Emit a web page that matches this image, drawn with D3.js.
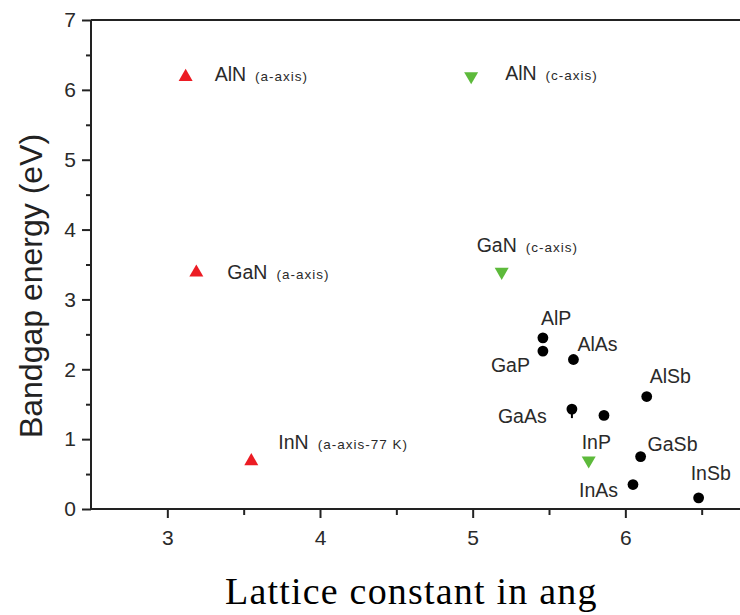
<!DOCTYPE html>
<html>
<head>
  <meta charset="utf-8">
  <title>Bandgap energy vs lattice constant</title>
  <script src="https://cdn.jsdelivr.net/npm/d3@7/dist/d3.min.js"></script>
  <style>
    body { margin: 0; background: #fff; }
    svg { display: block; }
  </style>
</head>
<body>
  <div id="chart"></div>
  <script>
    // wurtzite nitrides, a-axis (red up triangles)
    const aAxisNames = ['AlN', 'GaN', 'InN'];
    const aAxisSub = ['(a-axis)', '(a-axis)', '(a-axis-77 K)'];
    const aAxisLattice = [3.12, 3.19, 3.55];
    const aAxisGap = [6.2, 3.4, 0.7];

    // c-axis (green down triangles)
    const cAxisNames = ['AlN', 'GaN', 'InP'];
    const cAxisSub = ['(c-axis)', '(c-axis)', ''];
    const cAxisLattice = [4.99, 5.19, 5.76];
    const cAxisGap = [6.18, 3.38, 0.68];

    // zinc blende III-V (black dots)
    const zbNames = ['AlP', 'GaP', 'AlAs', 'AlSb', 'GaAs', '', 'GaSb', 'InAs', 'InSb'];
    const zbLattice = [5.46, 5.46, 5.66, 6.14, 5.65, 5.86, 6.10, 6.05, 6.48];
    const zbGap = [2.45, 2.26, 2.14, 1.61, 1.43, 1.34, 0.75, 0.35, 0.16];

    const xTicks = [3, 4, 5, 6];
    const yTicks = [0, 1, 2, 3, 4, 5, 6, 7];

    // label placement relative to each marker (layout only)
    const aAxisLabelPos = [[29, 5], [31, 8], [27, -11]];
    const cAxisLabelPos = [[34, 3], [-25, -21], [-7, -12]];
    const zbLabelPos = [[-2, -13], [-52, 21], [4, -9], [3, -14], [-74, 14], [0, 0], [7, -6], [-54, 12], [-8, -18]];

    const W = 740, H = 615;
    const svg = d3.select('#chart').append('svg')
      .attr('width', W).attr('height', H);

    const x = d3.scaleLinear().domain([2.5, 6.9]).range([91, 91 + 4.4 * 152.67]);
    const y = d3.scaleLinear().domain([0, 7]).range([509, 20]);

    const sans = 'Arial, "Liberation Sans", sans-serif';

    // minor ticks
    svg.append('g')
      .attr('transform', 'translate(' + x(2.5) + ',0)')
      .call(d3.axisLeft(y).tickValues(d3.range(0.5, 7, 1)).tickSize(5).tickFormat(''))
      .call(g => g.select('.domain').remove())
      .call(g => g.selectAll('line').attr('stroke', '#222').attr('stroke-width', 2));
    svg.append('g')
      .attr('transform', 'translate(0,' + y(0) + ')')
      .call(d3.axisBottom(x).tickValues([3.5, 4.5, 5.5, 6.5]).tickSize(6).tickFormat(''))
      .call(g => g.select('.domain').remove())
      .call(g => g.selectAll('line').attr('stroke', '#222').attr('stroke-width', 2));

    // major ticks + labels
    const yAxis = svg.append('g')
      .attr('transform', 'translate(' + x(2.5) + ',0)')
      .call(d3.axisLeft(y).tickValues(yTicks).tickSize(9).tickPadding(6).tickFormat(d3.format('d')));
    const xAxis = svg.append('g')
      .attr('transform', 'translate(0,' + y(0) + ')')
      .call(d3.axisBottom(x).tickValues(xTicks).tickSize(9).tickPadding(12).tickFormat(d3.format('d')));

    [yAxis, xAxis].forEach(a => {
      a.select('.domain').remove();
      a.selectAll('line').attr('stroke', '#222').attr('stroke-width', 2);
      a.selectAll('text').attr('fill', '#2a2a2a')
        .style('font-family', sans).style('font-size', '21px');
    });

    // frame lines: left, bottom, top
    const frame = svg.append('g').attr('stroke', '#222').attr('stroke-width', 2);
    frame.append('line').attr('x1', x(2.5)).attr('x2', x(2.5)).attr('y1', y(7)).attr('y2', y(0));
    frame.append('line').attr('x1', x(2.5)).attr('x2', W).attr('y1', y(0)).attr('y2', y(0));
    frame.append('line').attr('x1', x(2.5)).attr('x2', W).attr('y1', y(7)).attr('y2', y(7));

    const tri = d3.symbol().type(d3.symbolTriangle).size(85);

    function addLabel(px, py, name, sub, pos) {
      if (!name) return;
      const t = svg.append('text')
        .attr('x', px + pos[0]).attr('y', py + pos[1])
        .attr('fill', '#2a2a2a')
        .style('font-family', sans).style('font-size', '19.5px');
      t.append('tspan').text(name);
      if (sub) {
        t.append('tspan').attr('dx', 9).style('font-size', '13.5px')
          .style('letter-spacing', '1px').text(sub);
      }
    }

    // red up triangles
    aAxisLattice.forEach((d, i) => {
      const px = x(d), py = y(aAxisGap[i]);
      svg.append('path').attr('d', tri)
        .attr('transform', 'translate(' + px + ',' + (py + 1) + ')')
        .attr('fill', '#ec1c24');
      addLabel(px, py, aAxisNames[i], aAxisSub[i], aAxisLabelPos[i]);
    });

    // green down triangles
    cAxisLattice.forEach((d, i) => {
      const px = x(d), py = y(cAxisGap[i]);
      svg.append('path').attr('d', tri)
        .attr('transform', 'translate(' + px + ',' + (py - 1) + ') rotate(180)')
        .attr('fill', '#5dba3b');
      addLabel(px, py, cAxisNames[i], cAxisSub[i], cAxisLabelPos[i]);
    });

    // black dots
    zbLattice.forEach((d, i) => {
      const px = x(d), py = y(zbGap[i]);
      svg.append('circle').attr('cx', px).attr('cy', py).attr('r', 5.4).attr('fill', '#000');
      if (zbNames[i] === 'GaAs') {
        svg.append('line').attr('x1', px).attr('x2', px).attr('y1', py).attr('y2', py + 9)
          .attr('stroke', '#000').attr('stroke-width', 2);
      }
      addLabel(px, py, zbNames[i], '', zbLabelPos[i]);
    });

    // axis titles
    svg.append('text')
      .attr('transform', 'translate(42,286) rotate(-90)')
      .attr('text-anchor', 'middle')
      .attr('fill', '#222')
      .style('font-family', sans).style('font-size', '32px')
      .text('Bandgap energy (eV)');

    svg.append('text')
      .attr('x', 225).attr('y', 604)
      .attr('fill', '#000')
      .style('font-family', '"Times New Roman", "Liberation Serif", serif').style('font-size', '38px')
      .style('letter-spacing', '1.2px')
      .text('Lattice constant in ang');
  </script>
</body>
</html>
